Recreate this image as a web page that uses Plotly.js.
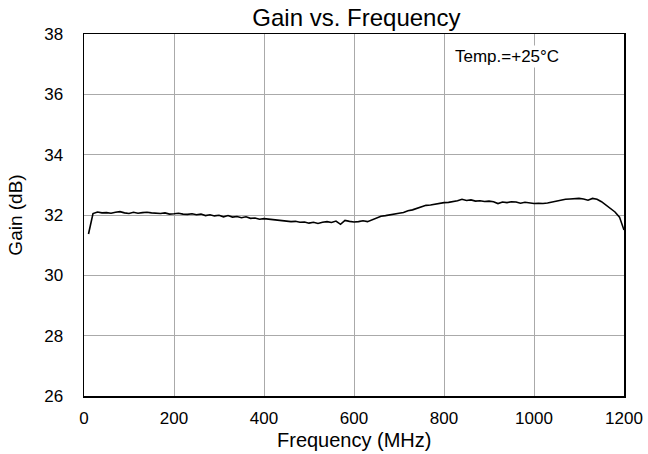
<!DOCTYPE html>
<html>
<head>
<meta charset="utf-8">
<script src="https://cdn.plot.ly/plotly-3.0.1.min.js"></script>
<style>html,body{margin:0;padding:0;background:#fff;}#chart{width:648px;height:454px;}</style>
</head>
<body>
<div id="chart"></div>
<script>
const freqMHz = [10,20,30,40,50,60,70,80,90,100,110,120,130,140,150,160,170,180,190,200,
210,220,230,240,250,260,270,280,290,300,310,320,330,340,350,360,370,380,390,400,
410,420,430,440,450,460,470,480,490,500,510,520,530,540,550,560,570,580,590,600,
610,620,630,640,650,660,670,680,690,700,710,720,730,740,750,760,770,780,790,800,
810,820,830,840,850,860,870,880,890,900,910,920,930,940,950,960,970,980,990,1000,
1010,1020,1030,1040,1050,1060,1070,1080,1090,1100,1110,1120,1130,1140,1150,1160,1170,1180,1190,1200];
const gainDB = [31.37,32.05,32.10,32.07,32.08,32.06,32.09,32.11,32.07,32.05,32.09,32.06,32.08,32.09,32.07,32.06,32.05,32.07,32.03,32.04,
32.06,32.03,32.02,32.04,32.01,32.03,31.98,32.01,31.97,31.99,31.94,31.98,31.93,31.95,31.91,31.94,31.89,31.90,31.86,31.88,
31.86,31.84,31.83,31.80,31.80,31.78,31.79,31.76,31.77,31.73,31.76,31.72,31.76,31.78,31.75,31.80,31.69,31.82,31.79,31.77,
31.78,31.81,31.78,31.84,31.89,31.96,31.98,32.01,32.05,32.06,32.08,32.14,32.17,32.22,32.27,32.32,32.33,32.36,32.38,32.41,
32.42,32.44,32.47,32.52,32.48,32.50,32.46,32.47,32.45,32.46,32.44,32.38,32.43,32.41,32.44,32.43,32.39,32.42,32.39,32.38,
32.39,32.38,32.40,32.43,32.47,32.50,32.52,32.53,32.55,32.55,32.53,32.49,32.55,32.52,32.44,32.33,32.24,32.10,31.93,31.50];
const xTicks = [0,200,400,600,800,1000,1200];
const yTicks = [26,28,30,32,34,36,38];
const chartTitle = "Gain vs. Frequency";
const xTitle = "Frequency (MHz)";
const yTitle = "Gain (dB)";
const noteText = "Temp.=+25°C";

const font = "Liberation Sans, Arial, sans-serif";
Plotly.newPlot("chart", [{
  x: freqMHz, y: gainDB, type: "scatter", mode: "lines",
  line: {color: "#000", width: 1.6}, hoverinfo: "skip"
}], {
  width: 648, height: 454,
  margin: {l: 84, r: 24, t: 34, b: 58},
  paper_bgcolor: "#fff", plot_bgcolor: "#fff",
  showlegend: false,
  font: {family: font, color: "#000", size: 16},
  title: {text: chartTitle, font: {family: font, size: 24, color: "#000"}, x: 0.55, xanchor: "center", y: 0.962, yanchor: "middle"},
  xaxis: {
    range: [0, 1200], tickvals: xTicks, ticktext: xTicks.map(String),
    showgrid: true, gridcolor: "#aaaaaa", gridwidth: 1,
    showline: true, linecolor: "#000", linewidth: 1.5, mirror: true,
    ticks: "", zeroline: false, ticklabelstandoff: 6,
    tickfont: {family: font, size: 17, color: "#000"}
  },
  yaxis: {
    range: [26, 38], tickvals: yTicks, ticktext: yTicks.map(String),
    showgrid: true, gridcolor: "#aaaaaa", gridwidth: 1,
    showline: true, linecolor: "#000", linewidth: 1.5, mirror: true,
    ticks: "", zeroline: false, ticklabelstandoff: 16,
    tickfont: {family: font, size: 17, color: "#000"},
    title: {text: yTitle, font: {family: font, size: 19, color: "#000"}, standoff: 16}
  },
  annotations: [{
    x: 940, y: 37.25, xref: "x", yref: "y", text: noteText, showarrow: false,
    xanchor: "center", yanchor: "middle", bgcolor: "#fff",
    font: {family: font, size: 17, color: "#000"}
  }, {
    x: 0.5, y: -0.121, xref: "paper", yref: "paper", text: xTitle, showarrow: false,
    xanchor: "center", yanchor: "middle",
    font: {family: font, size: 20, color: "#000"}
  }]
}, {staticPlot: true, displayModeBar: false});
</script>
</body>
</html>
